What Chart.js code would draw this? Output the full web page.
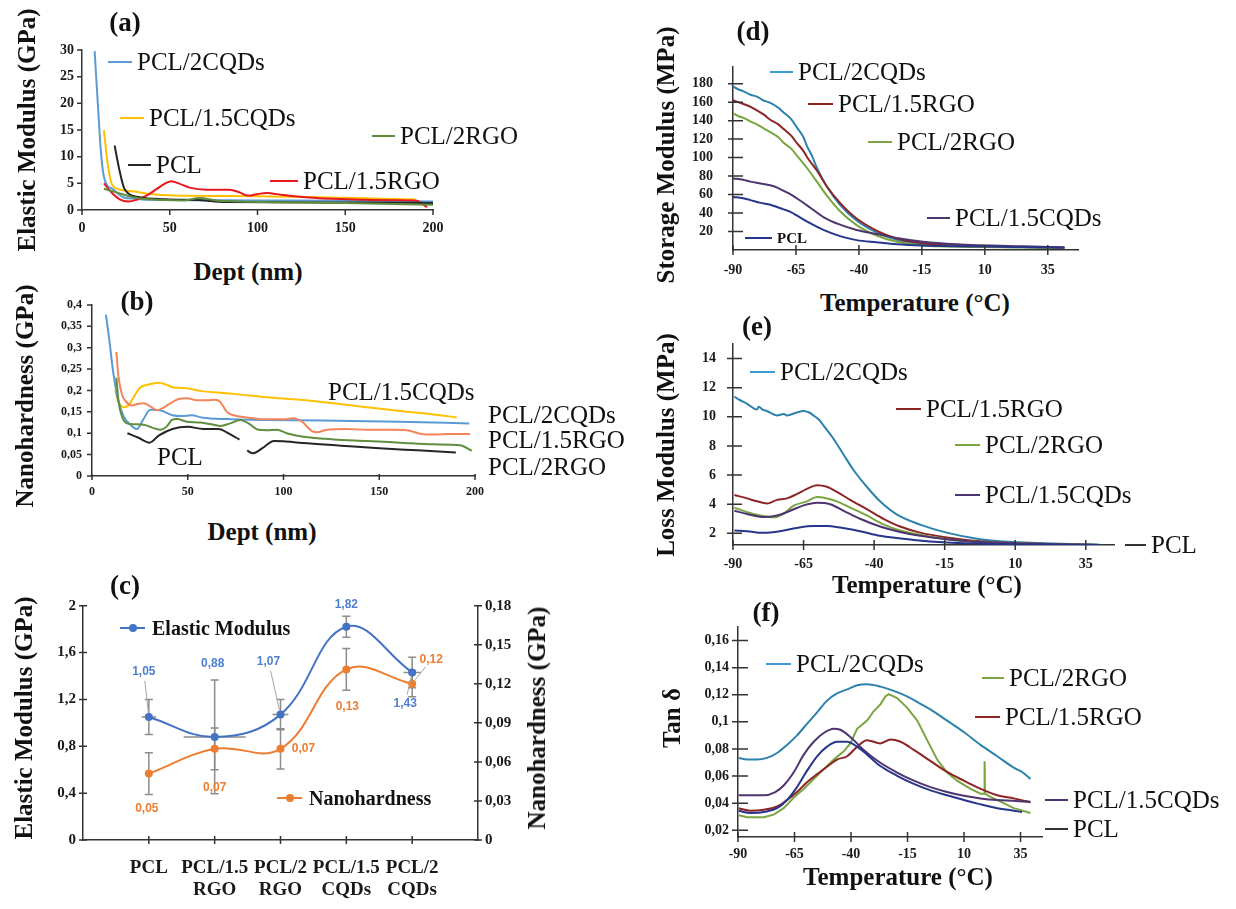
<!DOCTYPE html>
<html>
<head>
<meta charset="utf-8">
<script src="https://cdn.jsdelivr.net/npm/chart.js@4.4.1/dist/chart.umd.min.js"></script>
<style>
    body { margin: 0; background: #fff; }
    #page { position: relative; width: 1236px; height: 909px; overflow: hidden; background: #fff; }
    canvas { position: absolute; }
    .lbl { position: absolute; white-space: nowrap; line-height: 1; color: #111; z-index: 2; }
    .seg { position: absolute; height: 2px; z-index: 2; }
    .dot { position: absolute; width: 8px; height: 8px; border-radius: 50%; z-index: 3; }
</style>
</head>
<body>
<div id="page">
    <canvas id="chartA"></canvas>
    <canvas id="chartB"></canvas>
    <canvas id="chartC"></canvas>
    <canvas id="chartD"></canvas>
    <canvas id="chartE"></canvas>
    <canvas id="chartF"></canvas>
</div>
<script>
// ---- data ----
// (a) elastic modulus vs depth: [depth nm, GPa]
const a2CQDs = [[7.2,29.8],[9,20],[11,10],[12.9,5.7],[17.7,3.9],[23.4,2.4],[30,2.1],[38.6,1.9],[60,1.85],[100,1.8],[150,1.75],[200,1.6]];
const a15CQDs = [[12.5,15],[14.5,9],[16.7,5.1],[18.6,4.2],[29,3.5],[38.6,3.0],[51.9,2.7],[100,2.6],[150,2.3],[190,1.95]];
const aPCL = [[18.6,12.1],[21,8],[24.3,3.9],[32.9,2.4],[48,2.0],[70,1.8],[80,1.5],[150,1.4],[200,1.3]];
const a15RGO = [[12.5,5.0],[17.7,3.0],[21.5,2.0],[26.2,1.6],[31,1.9],[36.7,2.7],[42.4,3.9],[48,5.1],[50.9,5.4],[55.7,4.9],[61.3,4.2],[70.8,3.8],[84.1,3.8],[89.8,3.3],[94.6,2.7],[100.3,3.0],[105,3.2],[114.5,2.8],[124,2.5],[133.5,2.25],[143,2.1],[162,1.9],[190,1.8],[196.6,0.55]];
const a2RGO = [[12.5,4.0],[19.6,3.3],[29,2.4],[38.6,2.0],[57.5,1.8],[67,2.25],[76.5,1.8],[86,1.65],[150,1.3],[200,1.0]];
const depthTicks = [0, 50, 100, 150, 200];
const aModTicks = [0, 5, 10, 15, 20, 25, 30];

// (b) nanohardness vs depth: [depth nm, GPa]
const b2CQDs = [[7.3,0.377],[9,0.32],[11,0.245],[13.5,0.18],[16.5,0.14],[20,0.12],[23.5,0.11],[26.5,0.13],[30.4,0.155],[36,0.153],[42,0.142],[47,0.14],[52,0.142],[58,0.136],[70,0.133],[90,0.131],[120,0.13],[160,0.127],[197,0.123]];
const b15CQDs = [[12.2,0.199],[13.9,0.173],[16.5,0.161],[19.1,0.165],[21.7,0.184],[25.2,0.207],[29.6,0.214],[34.8,0.218],[39.1,0.213],[42.6,0.207],[49.6,0.205],[56.5,0.199],[65.2,0.195],[73.9,0.192],[91.3,0.184],[108.7,0.178],[126,0.17],[143.5,0.161],[160.9,0.152],[178.3,0.144],[190.4,0.137]];
const b15RGO = [[12.7,0.29],[13.9,0.23],[15.7,0.19],[17.9,0.173],[20.9,0.165],[24.3,0.169],[27,0.17],[30.4,0.163],[33.9,0.154],[37.4,0.16],[40.9,0.17],[45.2,0.18],[49.6,0.182],[54.8,0.177],[60,0.177],[64.3,0.178],[67,0.173],[70.4,0.15],[73.9,0.142],[80.9,0.137],[89.6,0.1326],[100,0.1326],[105,0.135],[109.6,0.127],[114.8,0.105],[117.4,0.102],[122.6,0.108],[133,0.11],[143.5,0.108],[157.4,0.108],[164.3,0.107],[171.3,0.099],[178.3,0.097],[187,0.098],[197.4,0.098]];
const b2RGO = [[12.7,0.23],[13.9,0.173],[15.7,0.139],[18.3,0.123],[21.7,0.121],[27,0.12],[32.2,0.112],[35.7,0.108],[39.1,0.116],[41.7,0.131],[44.3,0.133],[49.6,0.127],[56.5,0.125],[63.5,0.12],[67,0.117],[72.2,0.123],[77.4,0.131],[81.7,0.123],[87,0.108],[91.3,0.107],[96.5,0.108],[101.7,0.1],[108.7,0.093],[126,0.0856],[143.5,0.082],[160.9,0.078],[178.3,0.074],[192.2,0.072],[198.3,0.059]];
const bPCL = [[18.5,0.1],[24,0.09],[30,0.078],[35,0.095],[42,0.11],[50,0.115],[58,0.11],[66,0.11],[72,0.098],[77,0.085],[79,null],[81,0.06],[84,0.053],[89,0.065],[95,0.082],[100,0.081],[110,0.077],[130,0.071],[150,0.065],[170,0.06],[190,0.055]];
const bHardTicks = [0, 0.05, 0.1, 0.15, 0.2, 0.25, 0.3, 0.35, 0.4];

// (c) averages per sample
const samples = [['PCL'], ['PCL/1.5', 'RGO'], ['PCL/2', 'RGO'], ['PCL/1.5', 'CQDs'], ['PCL/2', 'CQDs']];
const elastic = [1.05, 0.88, 1.07, 1.82, 1.43];
const elasticErr = [0.15, 0.485, 0.13, 0.09, 0.13];
const elasticXErr = [0.11, 0.47, 0.12, 0, 0.13];
const hardness = [0.051, 0.07, 0.07, 0.131, 0.12];
const hardnessErr = [0.016, 0.016, 0.0155, 0.016, 0.01];
const cModTicks = [0, 0.4, 0.8, 1.2, 1.6, 2];
const cHardTicks = [0, 0.03, 0.06, 0.09, 0.12, 0.15, 0.18];
const sampleTicks = [1, 2, 3, 4, 5];

// (d) storage modulus vs temperature: [°C, MPa]
const d2CQDs = [[-90,177],[-88,174],[-86,172],[-83,168],[-80.5,166],[-78,162],[-75,159],[-72,154],[-70,149],[-67,142],[-64.7,133],[-62,122],[-60.7,113],[-58.5,101],[-56.7,89],[-52.8,69],[-47.5,49],[-40.9,32],[-33,19],[-25,11],[-14.5,6],[-1.3,4],[25,3],[41.6,2.3]];
const d15RGO = [[-90,162],[-88,160],[-85.8,158],[-83,155],[-80.5,151],[-78,147],[-75.2,141],[-72,136],[-69.9,131],[-67,124],[-64.7,116],[-62,107],[-60.7,101],[-56.7,86],[-52.8,69],[-47.5,51],[-40.9,34],[-33,21],[-25,12.4],[-14.5,7.3],[-1.3,4.7],[25,3.2],[41.6,2.3]];
const d2RGO = [[-90,148],[-88,145],[-85.8,143],[-83,139],[-80.5,136],[-78,132],[-75.2,127.6],[-72,122],[-69.9,116],[-67,110],[-64.7,102.5],[-60.7,89],[-56.7,74],[-52.8,59],[-47.5,42],[-40.9,27],[-33,15.7],[-25,9],[-14.5,5],[-1.3,3.7],[41.6,2.3]];
const d15CQDs = [[-90,77.5],[-86,76],[-83.1,74],[-79,72],[-75.2,70],[-72,67],[-69.9,64],[-67,60],[-64.7,56],[-59.4,46],[-54.1,35.7],[-47.5,27.4],[-40.9,21.7],[-33,17.4],[-25,13],[-14.5,9],[-1.3,6.3],[25,4],[41.6,3]];
const dPCL = [[-90,57.5],[-86,56],[-83.1,54],[-79,51],[-75.2,49],[-72,46],[-69.9,44],[-67,41],[-64.7,37.4],[-59.4,29],[-54.1,21.7],[-47.5,15],[-40.9,10.7],[-33,8.4],[-25,6.3],[-14.5,5],[25,3.3],[41.6,2.3]];
const tempTicks = [-90, -65, -40, -15, 10, 35];
const dStorTicks = [20, 40, 60, 80, 100, 120, 140, 160, 180];

// (e) loss modulus vs temperature: [°C, MPa]
const e2CQDs = [[-89.5,11.4],[-88,11.2],[-85,10.9],[-81.5,10.5],[-80.9,10.7],[-79.5,10.5],[-78,10.4],[-74.4,10.1],[-72,10.2],[-70.9,10.1],[-67.4,10.3],[-65,10.4],[-63,10.3],[-61.5,10.1],[-59.5,9.8],[-57.9,9.4],[-54.4,8.5],[-50.8,7.4],[-47.3,6.35],[-42.6,5.2],[-37.9,4.2],[-32,3.3],[-23.7,2.6],[-14.3,2.05],[-2.5,1.6],[9.3,1.4],[40,1.22]];
const e15RGO = [[-89.5,4.63],[-85,4.4],[-81.5,4.2],[-78,4.05],[-74.4,4.3],[-70.9,4.4],[-67.4,4.7],[-63.8,5.05],[-60.3,5.3],[-56.7,5.2],[-53.2,4.85],[-48.5,4.3],[-42.6,3.66],[-36.7,3.0],[-30.8,2.47],[-23.7,2.05],[-14.3,1.72],[-2.5,1.46],[9.3,1.33],[40,1.2]];
const e2RGO = [[-89.5,3.77],[-85,3.45],[-80.3,3.23],[-75.6,3.1],[-72.1,3.34],[-68.5,3.9],[-63.8,4.2],[-60.3,4.5],[-56.7,4.4],[-53.2,4.2],[-48.5,3.77],[-42.6,3.23],[-36.7,2.62],[-30.8,2.2],[-23.7,1.9],[-14.3,1.6],[-2.5,1.4],[40,1.2]];
const e15CQDs = [[-89.5,3.55],[-85,3.33],[-79.2,3.12],[-74.4,3.23],[-69.7,3.55],[-65,3.92],[-60.3,4.1],[-55.6,4.0],[-50.8,3.55],[-45,3.0],[-37.9,2.47],[-30.8,2.09],[-23.7,1.83],[-14.3,1.6],[-2.5,1.4],[40,1.2]];
const ePCL = [[-89.5,2.2],[-85,2.15],[-79.2,2.04],[-73.3,2.15],[-67.4,2.37],[-61.5,2.5],[-56.7,2.5],[-52,2.4],[-45,2.15],[-37.9,1.83],[-26,1.55],[-14.3,1.38],[9.3,1.25],[40,1.2]];
const eLossTicks = [2, 4, 6, 8, 10, 12, 14];

// (f) tan delta vs temperature: [°C, -]
const f2CQDs = [[-89.7,0.0734],[-86,0.0722],[-81.6,0.0722],[-77.2,0.0734],[-72.7,0.077],[-68.3,0.083],[-63.9,0.09],[-59.5,0.0985],[-55,0.107],[-50.6,0.1157],[-46.2,0.121],[-41.7,0.124],[-37.3,0.127],[-32.9,0.1277],[-27,0.126],[-21.1,0.1229],[-15.2,0.1188],[-9.3,0.1133],[-3.4,0.1076],[2.5,0.1009],[9.9,0.0925],[17.3,0.083],[24.7,0.0746],[32,0.0662],[35.7,0.063],[39.4,0.0578]];
const f2RGO = [[-89.7,0.031],[-86,0.0296],[-78.6,0.0296],[-74.2,0.0315],[-69.8,0.0363],[-65.4,0.044],[-60.9,0.0506],[-56.5,0.0578],[-52.1,0.065],[-47.6,0.0722],[-43.2,0.0782],[-40.3,0.0841],[-37.3,0.0949],[-32.9,0.101],[-29.9,0.108],[-27,0.1129],[-24.8,0.1188],[-23.3,0.1205],[-19.6,0.1176],[-15.2,0.1105],[-10.7,0.1009],[-6.3,0.0865],[-1.9,0.0722],[2.5,0.0626],[6.9,0.0566],[12.9,0.0506],[17.3,0.047],[18.9,0.047],[19.1,0.071],[19.3,0.047],[21.7,0.0446],[26.1,0.0411],[32,0.0363],[39.4,0.0327]];
const f15RGO = [[-89.7,0.0363],[-84.5,0.0344],[-78.6,0.0351],[-72.7,0.0375],[-68.3,0.0423],[-63.9,0.0482],[-59.5,0.0554],[-55,0.0614],[-50.6,0.0669],[-46.2,0.0722],[-41.7,0.0746],[-37.3,0.0817],[-32.9,0.0865],[-27,0.0841],[-22.5,0.087],[-18.1,0.0853],[-12.2,0.0793],[-4.8,0.071],[2.5,0.063],[9.9,0.0566],[17.3,0.0506],[24.7,0.0458],[32,0.0435],[39.4,0.0406]];
const f15CQDs = [[-89.7,0.0458],[-78.6,0.0458],[-73.5,0.0482],[-69.8,0.053],[-65.4,0.0626],[-60.9,0.0758],[-56.5,0.0853],[-52.1,0.0918],[-47.6,0.095],[-44.7,0.0942],[-40.3,0.0889],[-34.4,0.0793],[-27,0.0698],[-19.6,0.0626],[-12.2,0.0566],[-4.8,0.0518],[2.5,0.0482],[9.9,0.0454],[17.3,0.0435],[24.7,0.0423],[39.4,0.0411]];
const fPCL = [[-89.7,0.0344],[-84.5,0.0327],[-77.2,0.0339],[-72.7,0.0363],[-68.3,0.0423],[-63.9,0.0518],[-59.5,0.0638],[-55,0.0746],[-50.6,0.0817],[-46.2,0.0853],[-41.7,0.0853],[-37.3,0.0817],[-32.9,0.0758],[-27,0.0674],[-19.6,0.0602],[-12.2,0.0542],[-4.8,0.0494],[2.5,0.0458],[9.9,0.0423],[17.3,0.0391],[24.7,0.0363],[32,0.0344],[35.7,0.0334]];
const fTanTicks = [0.02, 0.04, 0.06, 0.08, 0.1, 0.12, 0.14, 0.16];

// ---- helpers ----
const SERIF = "'Liberation Serif', 'Times New Roman', serif";
const comma = v => String(v).replace('.', ',');
const page = document.getElementById('page');

const COL = {
    blue: '#5b9bd5', yellow: '#ffc000', black: '#262626', red: '#e8191e', green: '#5e8e3e', salmon: '#f4845c',
    cBlue: '#4472c4', cOrange: '#ed7d31',
    teal: '#2c82ad', tealKey: '#3d9ad6', wine: '#8e2424', olive: '#7aa540', purple: '#4e3470', navy: '#27358a'
};

function txt(s, x, y, font, opts = {}) {
    const d = document.createElement('div');
    d.className = 'lbl';
    d.textContent = s;
    d.style.left = x + 'px';
    d.style.top = y + 'px';
    d.style.font = font;
    const tx = opts.center ? '-50%' : '0';
    d.style.transform = 'translate(' + tx + ', -50%)' + (opts.rot ? ' rotate(-90deg)' : '');
    page.appendChild(d);
}

function seg(x1, x2, y, color) {
    const d = document.createElement('div');
    d.className = 'seg';
    d.style.left = x1 + 'px';
    d.style.top = (y - 1) + 'px';
    d.style.width = (x2 - x1) + 'px';
    d.style.background = color;
    page.appendChild(d);
}

function key(text, x1, x2, y, color, font) {
    seg(x1, x2, y, color);
    txt(text, x2 + 5, y, font || '25px ' + SERIF);
}

// fixed ticks, fixed axis box so the plot area lands where the figure has it
function axis(o) {
    return {
        type: 'linear',
        position: o.position,
        min: o.min,
        max: o.max,
        afterBuildTicks: s => { s.ticks = o.ticks.map(v => ({ value: v })); },
        afterFit: s => { if (s.isHorizontal()) s.height = o.size; else s.width = o.size; },
        grid: { display: false, drawTicks: false },
        border: { display: true, color: '#333', width: 1.5 },
        ticks: {
            font: { family: SERIF, size: o.font, weight: 'bold', lineHeight: 1.15 },
            color: '#1a1a1a',
            padding: o.pad,
            autoSkip: false,
            maxRotation: 0,
            callback: o.fmt || (v => comma(v))
        }
    };
}

function series(points, color, opts = {}) {
    return Object.assign({
        data: points.map(p => ({ x: p[0], y: p[1] })),
        borderColor: color,
        borderWidth: 2,
        pointRadius: 0,
        fill: false,
        tension: 0.4,
        cubicInterpolationMode: 'monotone'
    }, opts);
}

// tick marks that cross the axis line: [outside, inside] per scale id
const crossTicks = {
    id: 'crossTicks',
    afterDraw(chart, args, opts) {
        const ctx = chart.ctx;
        const area = chart.chartArea;
        ctx.save();
        ctx.strokeStyle = '#333';
        ctx.lineWidth = 1.5;
        Object.values(chart.scales).forEach(s => {
            const len = opts[s.id];
            if (!len) return;
            ctx.beginPath();
            s.ticks.forEach(t => {
                const p = s.getPixelForValue(t.value);
                if (s.isHorizontal()) {
                    ctx.moveTo(p, area.bottom - len[1]); ctx.lineTo(p, area.bottom + len[0]);
                } else if (s.position === 'left') {
                    ctx.moveTo(area.left - len[0], p); ctx.lineTo(area.left + len[1], p);
                } else {
                    ctx.moveTo(area.right + len[0], p); ctx.lineTo(area.right - len[1], p);
                }
            });
            ctx.stroke();
        });
        ctx.restore();
    }
};

function place(id, area, pad) {
    const c = document.getElementById(id);
    const w = area.r - area.l + pad.l + pad.r;
    const h = area.b - area.t + pad.t + pad.b;
    c.width = w;
    c.height = h;
    c.style.left = (area.l - pad.l) + 'px';
    c.style.top = (area.t - pad.t) + 'px';
    c.style.width = w + 'px';
    c.style.height = h + 'px';
    return c;
}

function lineChart(id, area, pad, datasets, scales, ticksOpt, extraPlugins = [], extraOpts = {}) {
    const c = place(id, area, pad);
    return new Chart(c, {
        type: 'line',
        data: { datasets },
        options: {
            responsive: false,
            animation: false,
            devicePixelRatio: 1,
            layout: { padding: { left: 0, top: pad.t, right: extraOpts.rightPad !== undefined ? extraOpts.rightPad : pad.r, bottom: 0 } },
            plugins: Object.assign({ legend: { display: false }, tooltip: { enabled: false }, crossTicks: ticksOpt }, extraOpts.plugins || {}),
            scales
        },
        plugins: [crossTicks].concat(extraPlugins)
    });
}

// ---- (a) ----
lineChart('chartA', { l: 82, t: 46, r: 433, b: 210 }, { l: 60, t: 12, r: 25, b: 40 }, [
    series(a2RGO, COL.green),
    series(aPCL, COL.black),
    series(a15RGO, COL.red),
    series(a15CQDs, COL.yellow),
    series(a2CQDs, COL.blue)
], {
    x: axis({ position: 'bottom', min: 0, max: 200, ticks: depthTicks, size: 40, font: 14, pad: 10 }),
    y: axis({ position: 'left', min: 0, max: 30, ticks: aModTicks, size: 60, font: 14, pad: 8 })
}, { x: [5, 0], y: [5, 0] });

// ---- (b) ----
lineChart('chartB', { l: 92, t: 300, r: 475, b: 476 }, { l: 60, t: 12, r: 25, b: 36 }, [
    series(b2RGO, COL.green),
    series(bPCL, COL.black, { spanGaps: false }),
    series(b15RGO, COL.salmon),
    series(b2CQDs, COL.blue),
    series(b15CQDs, COL.yellow)
], {
    x: axis({ position: 'bottom', min: 0, max: 200, ticks: depthTicks, size: 36, font: 12, pad: 9 }),
    y: axis({ position: 'left', min: 0, max: 0.4, ticks: bHardTicks, size: 60, font: 12, pad: 10 })
}, { x: [4, 2], y: [5, 0] });

// ---- (c) ----
const errorBars = {
    id: 'errorBars',
    beforeDatasetsDraw(chart, args, opts) {
        const ctx = chart.ctx;
        const xs = chart.scales.x;
        ctx.save();
        ctx.strokeStyle = '#8c8c8c';
        ctx.lineWidth = 1.5;
        opts.sets.forEach(set => {
            const ys = chart.scales[set.axis];
            set.values.forEach((v, i) => {
                const px = xs.getPixelForValue(i + 1);
                const top = ys.getPixelForValue(v + set.err[i]);
                const bot = ys.getPixelForValue(v - set.err[i]);
                ctx.beginPath();
                ctx.moveTo(px, top); ctx.lineTo(px, bot);
                ctx.moveTo(px - 4, top); ctx.lineTo(px + 4, top);
                ctx.moveTo(px - 4, bot); ctx.lineTo(px + 4, bot);
                if (set.xErr && set.xErr[i]) {
                    const py = ys.getPixelForValue(v);
                    ctx.moveTo(xs.getPixelForValue(i + 1 - set.xErr[i]), py);
                    ctx.lineTo(xs.getPixelForValue(i + 1 + set.xErr[i]), py);
                }
                ctx.stroke();
            });
        });
        ctx.restore();
    }
};

const valueLabels = {
    id: 'valueLabels',
    afterDatasetsDraw(chart, args, opts) {
        const ctx = chart.ctx;
        ctx.save();
        ctx.font = "bold 12px 'Liberation Sans', Arial, sans-serif";
        ctx.textAlign = 'center';
        ctx.textBaseline = 'middle';
        opts.sets.forEach(set => {
            const meta = chart.getDatasetMeta(set.index);
            meta.data.forEach((pt, i) => {
                const o = set.offsets[i];
                const lx = pt.x + o[0], ly = pt.y + o[1];
                if (o[2]) {
                    const dx = pt.x - lx, dy = pt.y - ly;
                    const len = Math.hypot(dx, dy);
                    ctx.strokeStyle = '#a6a6a6';
                    ctx.lineWidth = 1;
                    ctx.beginPath();
                    ctx.moveTo(lx + dx / len * 9, ly + dy / len * 9);
                    ctx.lineTo(pt.x - dx / len * 5, pt.y - dy / len * 5);
                    ctx.stroke();
                }
                ctx.fillStyle = set.color;
                ctx.fillText(comma(set.values[i].toFixed(2)), lx, ly);
            });
        });
        ctx.restore();
    }
};

lineChart('chartC', { l: 83, t: 604, r: 478, b: 840 }, { l: 60, t: 14, r: 50, b: 68 }, [
    {
        data: elastic.map((v, i) => ({ x: sampleTicks[i], y: v })),
        yAxisID: 'y', borderColor: COL.cBlue, backgroundColor: COL.cBlue, borderWidth: 2,
        pointRadius: 4, pointBackgroundColor: COL.cBlue, pointBorderWidth: 0, tension: 0.4
    },
    {
        data: hardness.map((v, i) => ({ x: sampleTicks[i], y: v })),
        yAxisID: 'y2', borderColor: COL.cOrange, backgroundColor: COL.cOrange, borderWidth: 2,
        pointRadius: 4, pointBackgroundColor: COL.cOrange, pointBorderWidth: 0, tension: 0.4
    }
], {
    x: axis({ position: 'bottom', min: 0, max: 6, ticks: sampleTicks, size: 68, font: 19, pad: 17, fmt: v => samples[v - 1] }),
    y: axis({ position: 'left', min: 0, max: 2, ticks: cModTicks, size: 60, font: 15, pad: 7 }),
    y2: axis({ position: 'right', min: 0, max: 0.18, ticks: cHardTicks, size: 50, font: 15, pad: 7 })
}, { x: [4, 4], y: [4, 4], y2: [4, 4] }, [errorBars, valueLabels], {
    rightPad: 0,
    plugins: {
        errorBars: { sets: [
            { axis: 'y', values: elastic, err: elasticErr, xErr: elasticXErr },
            { axis: 'y2', values: hardness, err: hardnessErr }
        ] },
        valueLabels: { sets: [
            { index: 0, values: elastic, color: '#4f7fd0', offsets: [[-5, -45, true], [-2, -73, false], [-12, -53, true], [0, -22, false], [-7, 31, true]] },
            { index: 1, values: hardness, color: COL.cOrange, offsets: [[-2, 35, false], [0, 39, false], [23, 0, false], [1, 37, false], [19, -24, true]] }
        ] }
    }
});

// ---- (d) ----
lineChart('chartD', { l: 733, t: 51, r: 1078, b: 250 }, { l: 60, t: 12, r: 20, b: 36 }, [
    series(dPCL, COL.navy),
    series(d15CQDs, COL.purple),
    series(d2RGO, COL.olive),
    series(d15RGO, COL.wine),
    series(d2CQDs, COL.teal)
], {
    x: axis({ position: 'bottom', min: -90, max: 47, ticks: tempTicks, size: 36, font: 14, pad: 12 }),
    y: axis({ position: 'left', min: 0, max: 198, ticks: dStorTicks, size: 60, font: 14, pad: 20 })
}, { x: [5, 5], y: [5, 10] });

// ---- (e) ----
lineChart('chartE', { l: 733, t: 331, r: 1114, b: 545 }, { l: 60, t: 12, r: 20, b: 36 }, [
    series(ePCL, COL.navy),
    series(e15CQDs, COL.purple),
    series(e2RGO, COL.olive),
    series(e15RGO, COL.wine),
    series(e2CQDs, COL.teal)
], {
    x: axis({ position: 'bottom', min: -90, max: 45, ticks: tempTicks, size: 36, font: 14, pad: 11 }),
    y: axis({ position: 'left', min: 1.2, max: 15, ticks: eLossTicks, size: 60, font: 14, pad: 17 })
}, { x: [5, 5], y: [6, 9] });

// ---- (f) ----
lineChart('chartF', { l: 738, t: 622, r: 1042, b: 837 }, { l: 60, t: 12, r: 20, b: 36 }, [
    series(fPCL, COL.navy),
    series(f15CQDs, COL.purple),
    series(f15RGO, COL.wine),
    series(f2RGO, COL.olive, { tension: 0, cubicInterpolationMode: 'default' }),
    series(f2CQDs, COL.teal)
], {
    x: axis({ position: 'bottom', min: -90, max: 44.5, ticks: tempTicks, size: 36, font: 14, pad: 9 }),
    y: axis({ position: 'left', min: 0.015, max: 0.17, ticks: fTanTicks, size: 60, font: 14, pad: 9 })
}, { x: [5, 5], y: [6, 10] });

// ---- titles, axis names and in-plot keys ----
const TITLE = 'bold 25px ' + SERIF;
const LETTER = 'bold 27px ' + SERIF;

// (a)
txt('(a)', 125, 22, LETTER, { center: true });
txt('Elastic Modulus (GPa)', 27, 130, TITLE, { center: true, rot: true });
txt('Dept (nm)', 248, 272, TITLE, { center: true });
key('PCL/2CQDs', 108, 132, 62, COL.blue);
key('PCL/1.5CQDs', 120, 144, 118, COL.yellow);
key('PCL/2RGO', 372, 395, 136, COL.green);
key('PCL', 128, 151, 165, COL.black);
key('PCL/1.5RGO', 270, 298, 181, COL.red);

// (b)
txt('(b)', 137, 301, LETTER, { center: true });
txt('Nanohardness (GPa)', 25, 396, TITLE, { center: true, rot: true });
txt('Dept (nm)', 262, 532, TITLE, { center: true });
txt('PCL/1.5CQDs', 328, 392, '25px ' + SERIF);
txt('PCL/2CQDs', 488, 415, '25px ' + SERIF);
txt('PCL/1.5RGO', 488, 440, '25px ' + SERIF);
txt('PCL/2RGO', 488, 467, '25px ' + SERIF);
txt('PCL', 157, 457, '25px ' + SERIF);

// (c)
txt('(c)', 125, 585, LETTER, { center: true });
txt('Elastic Modulus (GPa)', 24, 718, TITLE, { center: true, rot: true });
txt('Nanohardness (GPa)', 537, 718, TITLE, { center: true, rot: true });
[['Elastic Modulus', 120, 628, COL.cBlue], ['Nanohardness', 277, 798, COL.cOrange]].forEach(k => {
    seg(k[1], k[1] + 25, k[2], k[3]);
    const d = document.createElement('div');
    d.className = 'dot';
    d.style.left = (k[1] + 8.5) + 'px';
    d.style.top = (k[2] - 4) + 'px';
    d.style.background = k[3];
    page.appendChild(d);
    txt(k[0], k[1] + 32, k[2], 'bold 20px ' + SERIF);
});

// (d)
txt('(d)', 753, 31, LETTER, { center: true });
txt('Storage Modulus (MPa)', 666, 155, TITLE, { center: true, rot: true });
txt('Temperature (\u00B0C)', 915, 303, TITLE, { center: true });
key('PCL/2CQDs', 770, 793, 72, COL.tealKey);
key('PCL/1.5RGO', 808, 833, 104, COL.wine);
key('PCL/2RGO', 868, 892, 142, COL.olive);
key('PCL/1.5CQDs', 927, 950, 218, COL.purple);
key('PCL', 745, 772, 238, COL.navy, 'bold 15px ' + SERIF);

// (e)
txt('(e)', 757, 326, LETTER, { center: true });
txt('Loss Modulus (MPa)', 666, 445, TITLE, { center: true, rot: true });
txt('Temperature (\u00B0C)', 927, 585, TITLE, { center: true });
key('PCL/2CQDs', 750, 775, 372, COL.tealKey);
key('PCL/1.5RGO', 896, 921, 409, COL.wine);
key('PCL/2RGO', 955, 980, 445, COL.olive);
key('PCL/1.5CQDs', 955, 980, 495, COL.purple);
key('PCL', 1125, 1146, 545, '#333');

// (f)
txt('(f)', 766, 612, LETTER, { center: true });
txt('Tan \u03B4', 672, 718, TITLE, { center: true, rot: true });
txt('Temperature (\u00B0C)', 898, 877, TITLE, { center: true });
key('PCL/2CQDs', 766, 791, 664, COL.tealKey);
key('PCL/2RGO', 982, 1004, 678, COL.olive);
key('PCL/1.5RGO', 975, 1000, 717, COL.wine);
key('PCL/1.5CQDs', 1045, 1068, 800, COL.purple);
key('PCL', 1045, 1068, 829, '#333');
</script>
</body>
</html>
